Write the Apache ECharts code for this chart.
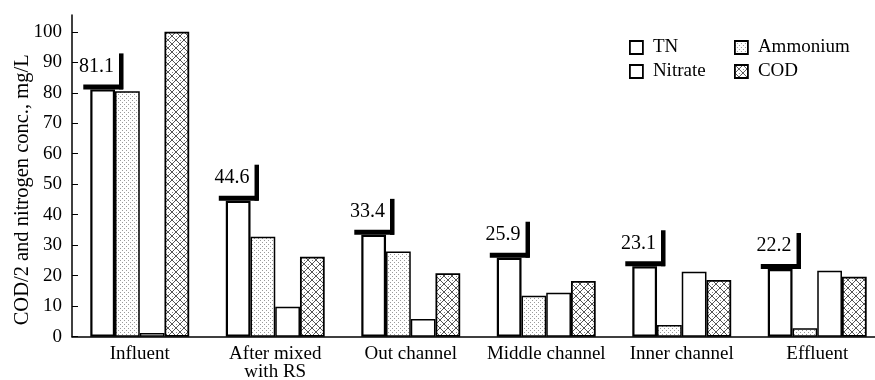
<!DOCTYPE html>
<html>
<head>
<meta charset="utf-8">
<script src="https://cdn.jsdelivr.net/npm/echarts@6/dist/echarts.min.js"></script>
<style>
  html, body { margin: 0; padding: 0; background: #fff; }
  #chart { width: 875px; height: 380px; }
</style>
</head>
<body>
<div id="chart"></div>
<script>
// Sampling points along the treatment line
const categories = ['Influent', 'After mixed\nwith RS', 'Out channel', 'Middle channel', 'Inner channel', 'Effluent'];

// Concentrations, mg/L (COD shown as COD/2)
const tnValues       = [81.1, 44.6, 33.4, 25.9, 23.1, 22.2];
const ammoniumValues = [80.5, 32.8, 27.9, 13.4, 3.8, 2.8];
const nitrateValues  = [1.2, 9.8, 5.8, 14.4, 21.3, 21.6];
const codValues      = [100, 26.2, 20.8, 18.3, 18.6, 19.7];

// Value axis ticks
const yTickValues = [0, 10, 20, 30, 40, 50, 60, 70, 80, 90, 100];

const FONT = "'Liberation Serif', 'Times New Roman', serif";
const CATEGORY_GAP = 0.27;

// Fill patterns for the hatched bars
function stipplePattern() {
  const c = document.createElement('canvas');
  c.width = 4; c.height = 4;
  const g = c.getContext('2d');
  g.fillStyle = '#ffffff';
  g.fillRect(0, 0, 4, 4);
  g.fillStyle = '#9a9a9a';
  g.fillRect(0, 0, 1, 1);
  g.fillRect(2, 2, 1, 1);
  return c;
}
function crossPattern() {
  const s = 8;
  const c = document.createElement('canvas');
  c.width = s; c.height = s;
  const g = c.getContext('2d');
  g.fillStyle = '#ffffff';
  g.fillRect(0, 0, s, s);
  g.strokeStyle = '#555555';
  g.lineWidth = 1;
  g.beginPath();
  g.moveTo(0, 0); g.lineTo(s, s);
  g.moveTo(s, 0); g.lineTo(0, s);
  g.stroke();
  g.fillStyle = '#888888';
  g.fillRect(s / 2, 0, 1, 1);
  g.fillRect(0, s / 2, 1, 1);
  return c;
}

const stipple = { image: stipplePattern(), repeat: 'repeat' };
const cross = { image: crossPattern(), repeat: 'repeat' };

const chart = echarts.init(document.getElementById('chart'), null, { renderer: 'canvas' });

function barSeries(name, data, fill, bw) {
  return {
    name: name,
    type: 'bar',
    data: data,
    barGap: '0%',
    barCategoryGap: (CATEGORY_GAP * 100) + '%',
    itemStyle: { color: fill, borderColor: '#000', borderWidth: bw },
    emphasis: { disabled: true },
    z: 2
  };
}

// Bracket with the TN value drawn on top of each TN bar
function renderTnBracket(params, api) {
  const idx = api.value(0);
  const val = api.value(1);
  const pt = api.coord([idx, val]);
  const band = api.size([1, 0])[0];
  const bw = band * (1 - CATEGORY_GAP) / 4;
  const left = pt[0] - 2 * bw;
  const right = left + bw;
  const top = pt[1];
  return {
    type: 'group',
    children: [
      { type: 'rect', shape: { x: left - 7, y: top - 5, width: bw + 15, height: 5 }, style: { fill: '#000' } },
      { type: 'rect', shape: { x: right + 4, y: top - 36, width: 4.5, height: 36 }, style: { fill: '#000' } },
      {
        type: 'text',
        style: {
          x: right - 1, y: top - 23,
          text: val.toFixed(1),
          align: 'right', verticalAlign: 'middle',
          font: '20px ' + FONT,
          fill: '#000'
        }
      }
    ]
  };
}

const legendCommon = {
  orient: 'vertical',
  itemWidth: 13,
  itemHeight: 13,
  itemGap: 5,
  icon: 'rect',
  selectedMode: false,
  itemStyle: { borderColor: '#000', borderWidth: 1.8 },
  textStyle: { fontFamily: FONT, fontSize: 19, lineHeight: 19, color: '#000', padding: [0, 0, 0, 5] }
};

chart.setOption({
  animation: false,
  backgroundColor: '#fff',
  grid: { left: 72, top: 15, width: 813, bottom: 43.3, containLabel: false, outerBoundsMode: 'none' },
  legend: [
    Object.assign({}, legendCommon, { data: ['TN', 'Nitrate'], left: 624, top: 33 }),
    Object.assign({}, legendCommon, { data: ['Ammonium', 'COD'], left: 729, top: 33 })
  ],
  xAxis: {
    type: 'category',
    data: categories,
    boundaryGap: true,
    axisLine: { lineStyle: { color: '#000', width: 1.5 } },
    axisTick: { inside: true, length: 8, lineStyle: { color: '#000', width: 1 } },
    axisLabel: {
      fontFamily: FONT, fontSize: 19, color: '#000',
      margin: 8, lineHeight: 18.5, interval: 0
    }
  },
  yAxis: {
    type: 'value',
    min: 0,
    max: 105.5,
    interval: 10,
    name: 'COD/2 and nitrogen conc., mg/L',
    nameLocation: 'middle',
    nameGap: 39,
    nameMoveOverlap: false,
    nameTextStyle: { fontFamily: FONT, fontSize: 20.5, color: '#000', padding: [0, 28, 0, 0] },
    axisLine: { show: true, lineStyle: { color: '#000', width: 1.5 } },
    axisTick: { show: true, inside: true, length: 6, customValues: yTickValues, lineStyle: { color: '#000' } },
    axisLabel: {
      fontFamily: FONT, fontSize: 19, color: '#000', margin: 10,
      customValues: yTickValues
    },
    splitLine: { show: false }
  },
  series: [
    barSeries('TN', tnValues, '#ffffff', 2.2),
    barSeries('Ammonium', ammoniumValues, stipple, 1.5),
    barSeries('Nitrate', nitrateValues, '#ffffff', 1.5),
    barSeries('COD', codValues, cross, 1.8),
    {
      name: 'TN value',
      type: 'custom',
      data: tnValues.map(function (v, i) { return [i, v]; }),
      renderItem: renderTnBracket,
      z: 5,
      silent: true
    }
  ]
});
</script>
</body>
</html>
